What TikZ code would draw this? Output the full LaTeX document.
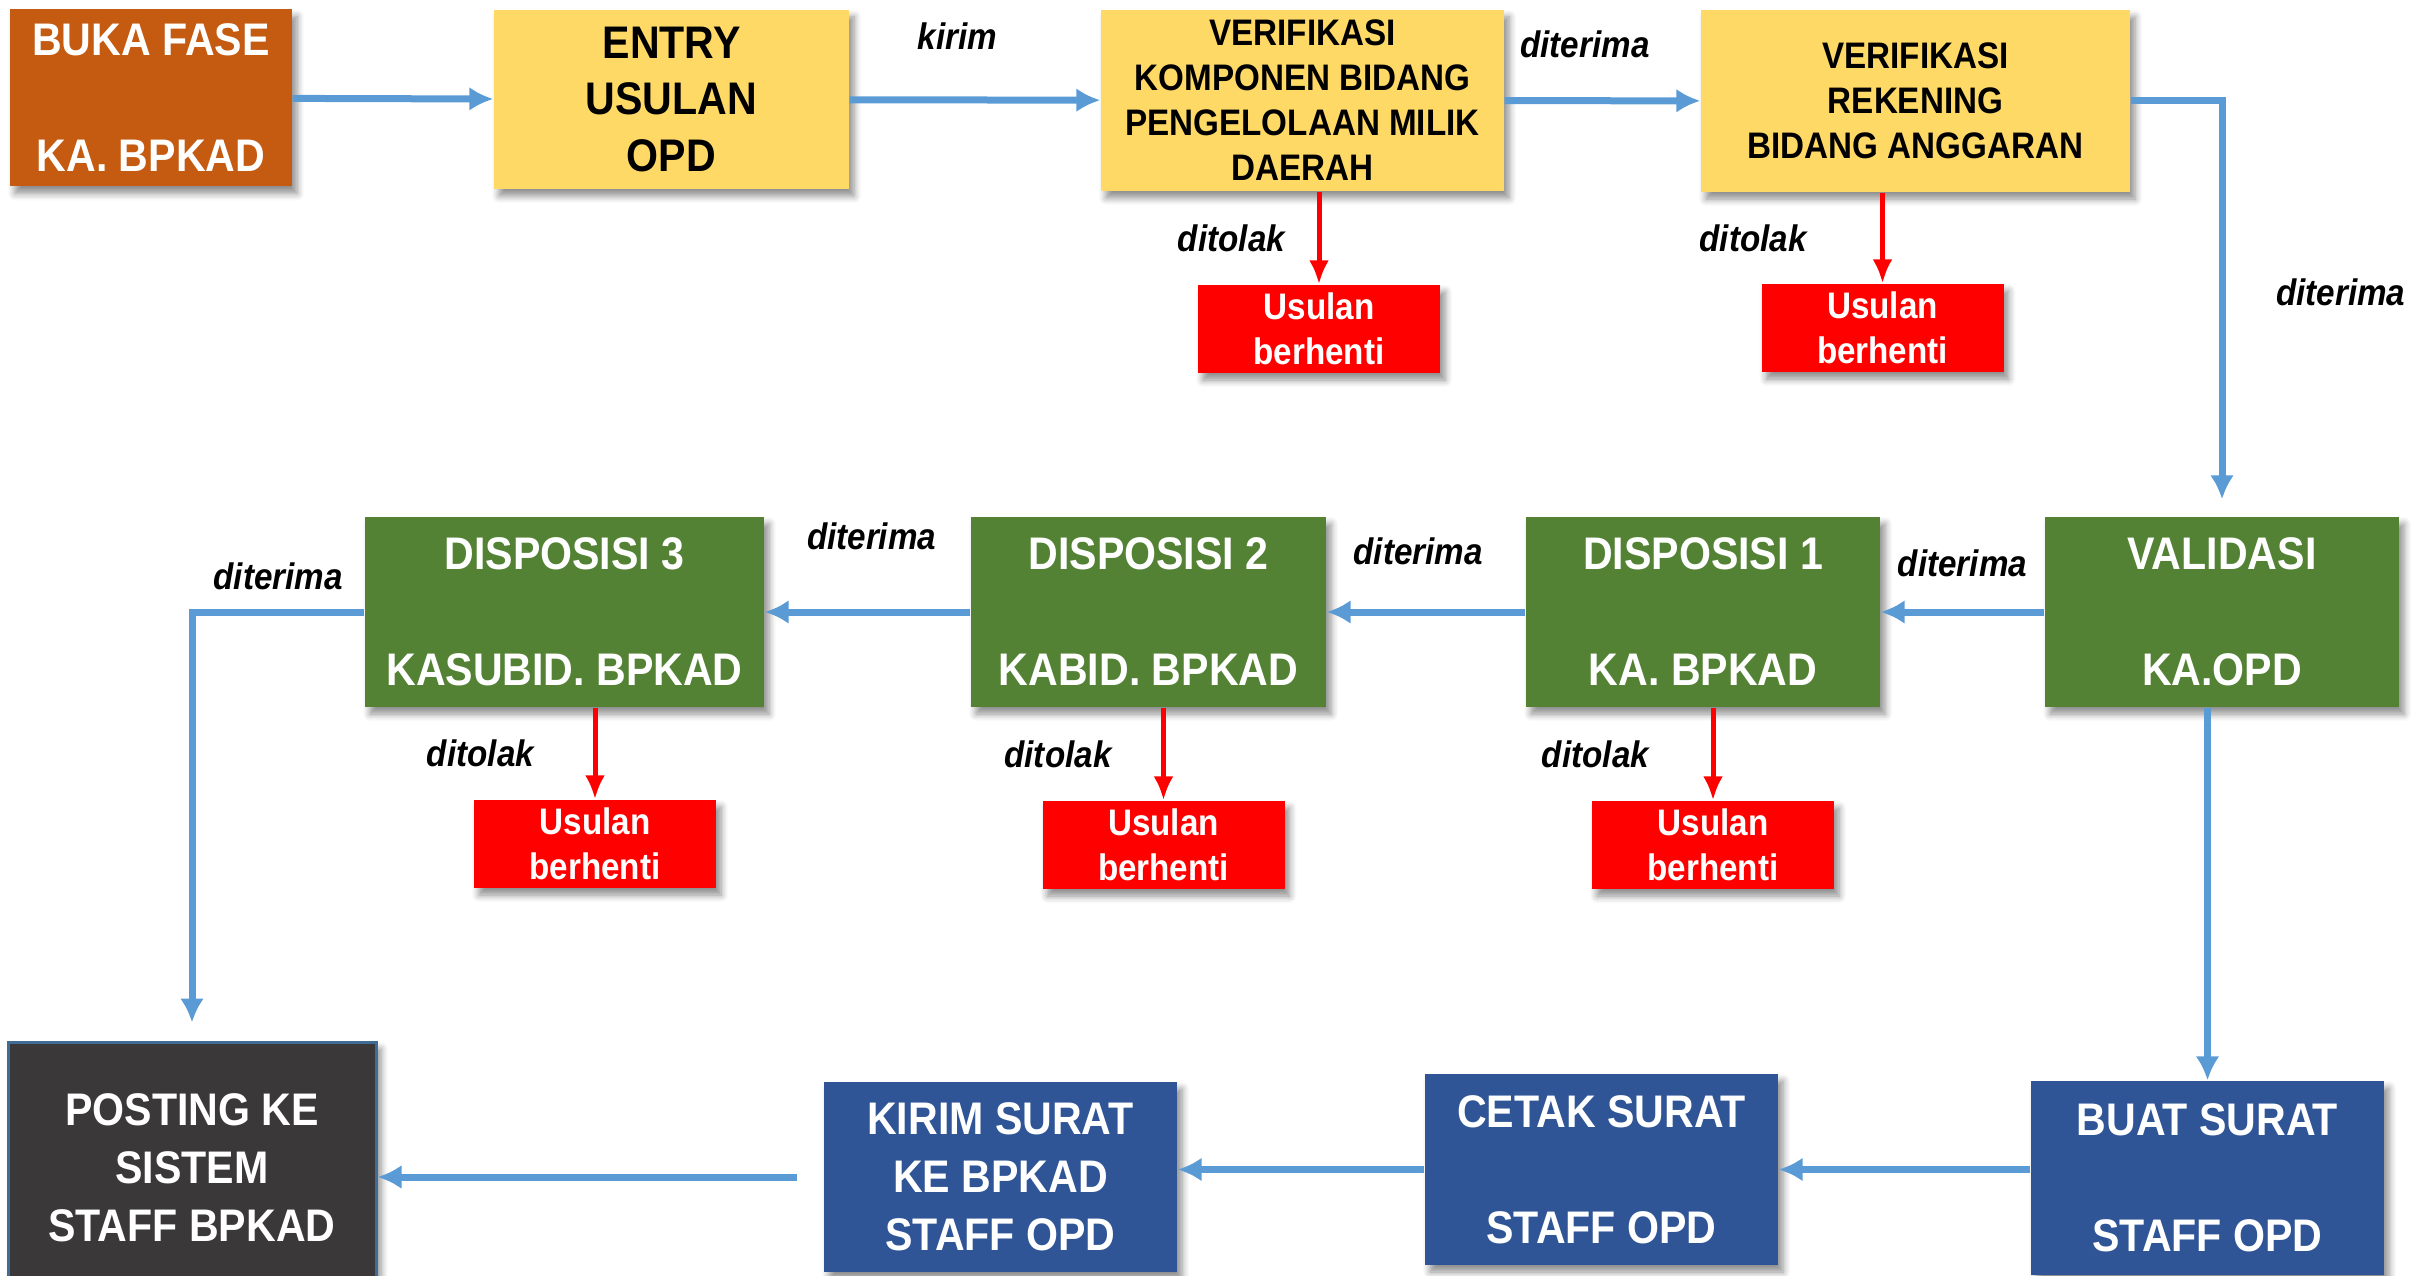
\documentclass[tikz,border=0pt]{standalone}
\usepackage{fontspec}
\setmainfont{Liberation Sans}[FakeStretch=0.9]
\usetikzlibrary{arrows.meta,shadows.blur}

\definecolor{fasebrown}{HTML}{C55A11}
\definecolor{entryyellow}{HTML}{FFD966}
\definecolor{dispgreen}{HTML}{548235}
\definecolor{suratblue}{HTML}{2F5597}
\definecolor{postinggray}{HTML}{3A3838}
\definecolor{flowblue}{HTML}{5B9BD5}
\definecolor{stopred}{HTML}{FF0000}

\tikzset{
	box/.style 2 args={minimum width=#1mm, minimum height=#2mm, inner sep=0pt, align=center,
		font=\fontsize{13}{16}\selectfont\bfseries,
		blur shadow={shadow xshift=0.5mm, shadow yshift=-0.7mm, shadow blur radius=0.7mm, shadow blur steps=6, shadow opacity=45}},
	orangebox/.style 2 args={box={#1}{#2}, fill=fasebrown, text=white},
	yellowbox/.style 2 args={box={#1}{#2}, fill=entryyellow, text=black},
	greenbox/.style 2 args={box={#1}{#2}, fill=dispgreen, text=white},
	bluebox/.style 2 args={box={#1}{#2}, fill=suratblue, text=white},
	darkbox/.style 2 args={box={#1}{#2}, fill=postinggray, draw=flowblue!70!black, line width=0.3mm, text=white},
	stopbox/.style={box={24.2}{8.8}, fill=stopred, text=white, font=\fontsize{10.5}{12.8}\selectfont\bfseries},
	lbl/.style={font=\fontsize{10.5}{12}\selectfont\bfseries\itshape, inner sep=1pt, fill=white},
	flow/.style={draw=flowblue, line width=0.7mm, -{Latex[length=2.4mm,width=2.4mm]}},
	reject/.style={draw=stopred, line width=0.5mm, -{Latex[length=2.4mm,width=2mm]}}
}

\begin{document}
\begin{tikzpicture}[x=0.1mm, y=-0.1mm]
	\path[use as bounding box] (0,0) rectangle (2432,1275);

	% top row
	\node[orangebox={28.2}{17.7}] (buka) at (151,98) {BUKA FASE\\[17pt]KA. BPKAD};
	\node[yellowbox={35.5}{17.9}, font=\fontsize{13}{16.2}\selectfont\bfseries] (entry) at (671.5,99.5) {ENTRY\\USULAN\\OPD};
	\node[yellowbox={40.3}{18.1}, font=\fontsize{10.5}{12.8}\selectfont\bfseries] (verkomp) at (1302.5,100.5) {VERIFIKASI\\KOMPONEN BIDANG\\PENGELOLAAN MILIK\\DAERAH};
	\node[yellowbox={42.9}{18.2}, font=\fontsize{10.5}{12.8}\selectfont\bfseries] (verrek) at (1915.5,101) {VERIFIKASI\\REKENING\\BIDANG ANGGARAN};
	\node[stopbox] (stopkomp) at (1319,329) {Usulan\\berhenti};
	\node[stopbox] (stoprek) at (1882.5,328) {Usulan\\berhenti};

	% middle row
	\node[greenbox={39.9}{19}] (disp3) at (564.5,612) {DISPOSISI 3\\[17pt]KASUBID. BPKAD};
	\node[greenbox={35.5}{19}] (disp2) at (1148.5,612) {DISPOSISI 2\\[17pt]KABID. BPKAD};
	\node[greenbox={35.4}{19}] (disp1) at (1703,612) {DISPOSISI 1\\[17pt]KA. BPKAD};
	\node[greenbox={35.4}{19}] (validasi) at (2222,612) {VALIDASI\\[17pt]KA.OPD};
	\node[stopbox] (stop3) at (595,844) {Usulan\\berhenti};
	\node[stopbox] (stop2) at (1163.5,845) {Usulan\\berhenti};
	\node[stopbox] (stop1) at (1713,845) {Usulan\\berhenti};

	% bottom row
	\node[darkbox={36.8}{25.2}, font=\fontsize{13}{16.5}\selectfont\bfseries] (posting) at (192,1168) {POSTING KE\\SISTEM\\STAFF BPKAD};
	\node[bluebox={35.3}{19}, font=\fontsize{13}{16.5}\selectfont\bfseries] (kirim) at (1000.5,1177) {KIRIM SURAT\\KE BPKAD\\STAFF OPD};
	\node[bluebox={35.3}{19.1}] (cetak) at (1601.5,1169.5) {CETAK SURAT\\[17pt]STAFF OPD};
	\node[bluebox={35.3}{19.4}] (buat) at (2207.5,1178) {BUAT SURAT\\[17pt]STAFF OPD};

	\draw[flow] (buka) -- (entry);
	\draw[flow] (entry) -- node[lbl, pos=.43, above=4.3mm] {kirim} (verkomp);
	\draw[flow] (verkomp) -- node[lbl, pos=.41, above=3.6mm] {diterima} (verrek);
	\draw[flow, shorten >=1.7mm] (verrek) -| node[lbl, pos=.73, right=4.7mm] {diterima} (validasi);
	\draw[reject] (verkomp.south -| stopkomp) -- node[lbl, left=2.8mm] {ditolak} (stopkomp);
	\draw[reject] (verrek.south -| stoprek) -- node[lbl, left=7mm] {ditolak} (stoprek);

	\draw[flow] (validasi) -- node[lbl, above=2.8mm] {diterima} (disp1);
	\draw[flow] (disp1) -- node[lbl, pos=.54, above=4mm] {diterima} (disp2);
	\draw[flow] (disp2) -- node[lbl, pos=.48, above=5.5mm] {diterima} (disp3);
	\draw[flow, shorten >=1.8mm] (disp3) -| node[lbl, pos=.25, above=1.5mm] {diterima} (posting);
	\draw[reject] (disp3.south -| stop3) -- node[lbl, left=5.5mm] {ditolak} (stop3);
	\draw[reject] (disp2.south -| stop2) -- node[lbl, left=4.6mm] {ditolak} (stop2);
	\draw[reject] (disp1.south -| stop1) -- node[lbl, left=5.8mm] {ditolak} (stop1);

	\draw[flow] (validasi.south -| buat) -- (buat);
	\draw[flow] (buat.west |- cetak) -- (cetak);
	\draw[flow] (cetak) -- (cetak.west -| kirim.east);
	\draw[flow, shorten <=2.6mm] (kirim) -- (kirim.west -| posting.east);
\end{tikzpicture}
\end{document}
